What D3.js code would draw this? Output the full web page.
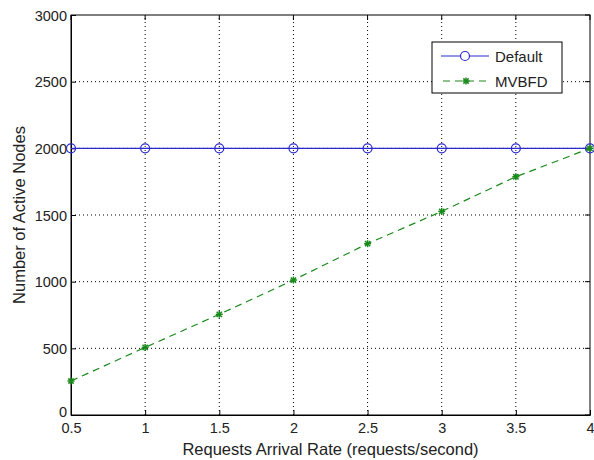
<!DOCTYPE html>
<html><head><meta charset="utf-8">
<script src="https://cdn.jsdelivr.net/npm/d3@7"></script>
<style>body{margin:0;background:#fff;}svg{display:block;font-family:"Liberation Sans",Arial,sans-serif;}</style>
</head><body>
<script>
const rates = [0.5, 1, 1.5, 2, 2.5, 3, 3.5, 4];
const defaultNodes = [2000, 2000, 2000, 2000, 2000, 2000, 2000, 2000];
const mvbfdNodes = [255, 507, 755, 1012, 1285, 1527, 1787, 2000];
const xTicks = [0.5, 1, 1.5, 2, 2.5, 3, 3.5, 4];
const yTicks = [0, 500, 1000, 1500, 2000, 2500, 3000];
const seriesNames = ["Default", "MVBFD"];

const W = 594, H = 460;
const m = {l: 71, r: 4, t: 15, b: 45};
const svg = d3.select("body").append("svg").attr("width", W).attr("height", H);
const x = d3.scaleLinear().domain([0.5, 4]).range([m.l, W - m.r]);
const y = d3.scaleLinear().domain([0, 3000]).range([H - m.b, m.t]);

// grid
const g = svg.append("g");
g.selectAll(".vg").data(xTicks.slice(1, -1)).enter().append("line")
  .attr("x1", d => x(d)).attr("x2", d => x(d)).attr("y1", y(0)).attr("y2", y(3000))
  .attr("stroke", "#000").attr("stroke-width", 1).attr("stroke-dasharray", "1,3");
g.selectAll(".hg").data(yTicks.slice(1, -1)).enter().append("line")
  .attr("y1", d => y(d)).attr("y2", d => y(d)).attr("x1", x(0.5)).attr("x2", x(4))
  .attr("stroke", "#000").attr("stroke-width", 1).attr("stroke-dasharray", "1,3");

// frame
svg.append("rect").attr("x", x(0.5)).attr("y", y(3000)).attr("width", x(4) - x(0.5)).attr("height", y(0) - y(3000))
  .attr("fill", "none").attr("stroke", "#000").attr("stroke-width", 1);

// axes (ticks inward)
const xa = svg.append("g").attr("transform", `translate(0,${y(0)})`)
  .call(d3.axisBottom(x).tickValues(xTicks).tickSizeInner(-5).tickSizeOuter(0).tickPadding(9).tickFormat(d3.format("")));
const ya = svg.append("g").attr("transform", `translate(${x(0.5)},0)`)
  .call(d3.axisLeft(y).tickValues(yTicks).tickSizeInner(-5).tickSizeOuter(0).tickPadding(4).tickFormat(d3.format("")));
[xa, ya].forEach(a => {
  a.select(".domain").attr("stroke", "#000");
  a.selectAll("text").attr("font-size", 14.5).attr("fill", "#222").attr("font-family", '"Liberation Sans",Arial,sans-serif');
});
xa.selectAll("text").attr("dy", "0.6em");
ya.selectAll("text").attr("dy", d => d === 0 ? "0.07em" : "0.35em");
// top/right ticks
svg.append("g").selectAll("line").data(xTicks).enter().append("line")
  .attr("x1", d => x(d)).attr("x2", d => x(d)).attr("y1", y(3000)).attr("y2", y(3000) + 5).attr("stroke", "#000");
svg.append("g").selectAll("line").data(yTicks).enter().append("line")
  .attr("y1", d => y(d)).attr("y2", d => y(d)).attr("x1", x(4)).attr("x2", x(4) - 5).attr("stroke", "#000");

// labels
svg.append("text").attr("x", (x(0.5) + x(4)) / 2).attr("y", 455).attr("text-anchor", "middle")
  .attr("font-size", 16.5).attr("fill", "#222").text("Requests Arrival Rate (requests/second)");
svg.append("text").attr("transform", `translate(25,${(y(0) + y(3000)) / 2}) rotate(-90)`).attr("text-anchor", "middle")
  .attr("font-size", 16.5).attr("fill", "#222").text("Number of Active Nodes");

const line = d3.line().x((d, i) => x(rates[i])).y(d => y(d));
const blue = "#2a2ad0", green = "#1a8a1a";

// Default series
svg.append("path").datum(defaultNodes).attr("d", line).attr("fill", "none").attr("stroke", blue).attr("stroke-width", 1.2);
svg.append("g").selectAll("circle").data(defaultNodes).enter().append("circle")
  .attr("cx", (d, i) => x(rates[i])).attr("cy", d => y(d)).attr("r", 4.5)
  .attr("fill", "none").attr("stroke", blue).attr("stroke-width", 1.2);

// MVBFD series
svg.append("path").datum(mvbfdNodes).attr("d", line).attr("fill", "none").attr("stroke", green)
  .attr("stroke-width", 1.2).attr("stroke-dasharray", "7,5");
function star(sel, cx, cy) {
  const s = 3.5;
  const gg = sel.append("g").attr("stroke", green).attr("stroke-width", 1.5);
  gg.append("line").attr("x1", cx - s).attr("x2", cx + s).attr("y1", cy).attr("y2", cy);
  gg.append("line").attr("x1", cx).attr("x2", cx).attr("y1", cy - s).attr("y2", cy + s);
  gg.append("line").attr("x1", cx - s * .75).attr("x2", cx + s * .75).attr("y1", cy - s * .75).attr("y2", cy + s * .75);
  gg.append("line").attr("x1", cx - s * .75).attr("x2", cx + s * .75).attr("y1", cy + s * .75).attr("y2", cy - s * .75);
}
const sg = svg.append("g");
mvbfdNodes.forEach((d, i) => star(sg, x(rates[i]), y(d)));

// legend
const lg = svg.append("g");
lg.append("rect").attr("x", 432).attr("y", 42).attr("width", 130).attr("height", 51)
  .attr("fill", "#fff").attr("stroke", "#000").attr("stroke-width", 1);
lg.append("line").attr("x1", 441).attr("x2", 489).attr("y1", 56).attr("y2", 56).attr("stroke", blue).attr("stroke-width", 1.2);
lg.append("circle").attr("cx", 465).attr("cy", 56).attr("r", 4.5).attr("fill", "#fff").attr("stroke", blue).attr("stroke-width", 1.2);
lg.append("line").attr("x1", 443).attr("x2", 489).attr("y1", 81).attr("y2", 81).attr("stroke", green).attr("stroke-width", 1.2).attr("stroke-dasharray", "7,5");
star(lg, 466, 81);
lg.append("text").attr("x", 495).attr("y", 61.5).attr("font-size", 15).attr("fill", "#222").text(seriesNames[0]);
lg.append("text").attr("x", 495).attr("y", 86.5).attr("font-size", 15).attr("fill", "#222").text(seriesNames[1]);
</script>
</body></html>
